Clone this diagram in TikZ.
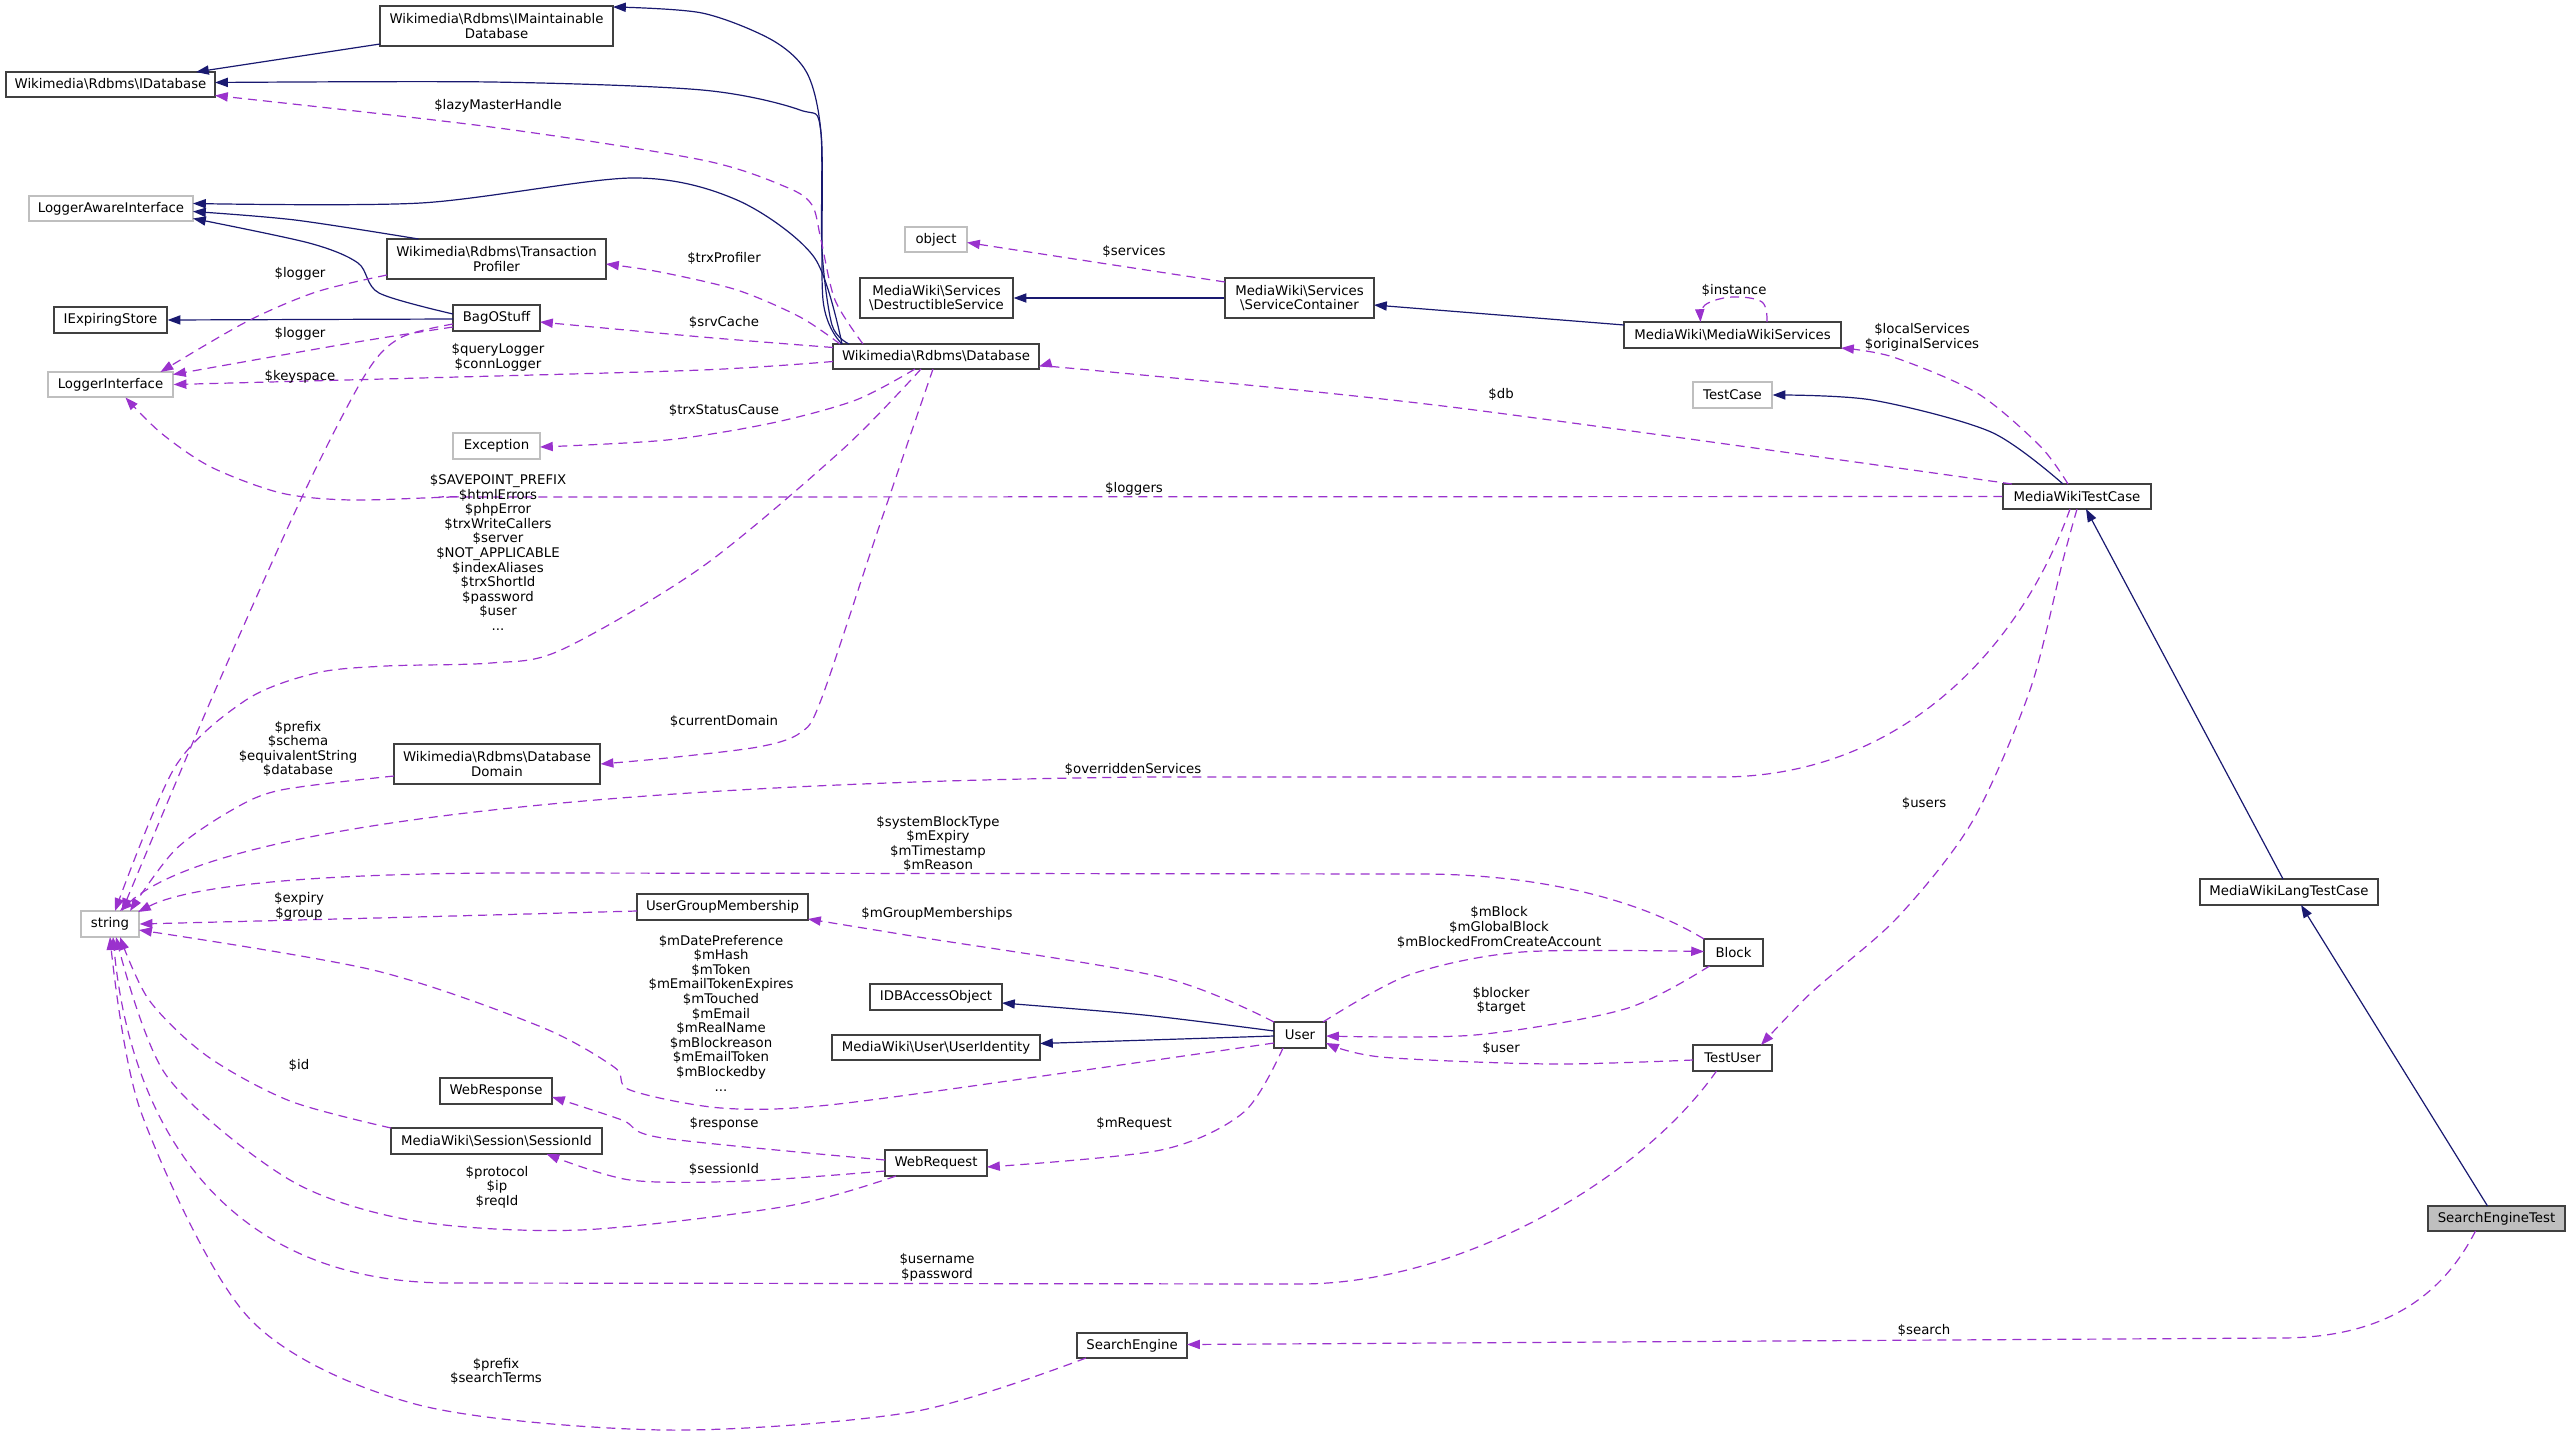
\documentclass[tikz,border=0pt]{standalone}
\usepackage{fontspec}
\setmainfont{DejaVu Sans}
\usetikzlibrary{arrows.meta,calc}
\definecolor{inhc}{HTML}{191970}
\definecolor{depc}{HTML}{9A32CD}
\definecolor{grayb}{HTML}{BFBFBF}
\definecolor{boxb}{HTML}{404040}
\newcommand{\bs}{\textbackslash}
\begin{document}
\begin{tikzpicture}[x=0.5pt,y=-0.5pt,
  every node/.style={font=\fontsize{6.65}{7.3}\selectfont},
  box/.style={draw=boxb, line width=0.6pt, inner sep=0pt, align=center, fill=white},
  gbox/.style={box, draw=grayb},
  inh/.style={draw=inhc, line width=0.6pt, -{Triangle[length=6.4pt,width=4.6pt]}},
  dep/.style={draw=depc, line width=0.6pt, dash pattern=on 4.5pt off 3pt, -{Triangle[length=6.4pt,width=4.6pt]}},
  lbl/.style={align=center, inner sep=0pt, text=black}]
\useasboundingbox (0,0) rectangle (2569,1439);

% nodes
\node[box, minimum width=116.5pt, minimum height=20pt] (imdb) at (496.5,26) {Wikimedia\bs Rdbms\bs IMaintainable\\Database};
\node[box, minimum width=104.5pt, minimum height=12.5pt] (idb) at (110.5,84.5) {Wikimedia\bs Rdbms\bs IDatabase};
\node[gbox, minimum width=82pt, minimum height=12.5pt] (lai) at (111,208.5) {LoggerAwareInterface};
\node[box, minimum width=109.5pt, minimum height=20pt] (tp) at (496.5,259) {Wikimedia\bs Rdbms\bs Transaction\\Profiler};
\node[box, minimum width=56.5pt, minimum height=13pt] (ies) at (110.5,320) {IExpiringStore};
\node[box, minimum width=43.5pt, minimum height=13pt] (bag) at (496.5,318) {BagOStuff};
\node[gbox, minimum width=62.5pt, minimum height=12.5pt] (li) at (110.5,384.5) {LoggerInterface};
\node[box, minimum width=103pt, minimum height=12.5pt] (db) at (936,356.5) {Wikimedia\bs Rdbms\bs Database};
\node[gbox, minimum width=31pt, minimum height=12.5pt] (obj) at (936,239.5) {object};
\node[box, minimum width=76.5pt, minimum height=20pt] (ds) at (936.5,298) {MediaWiki\bs Services\\\bs DestructibleService};
\node[gbox, minimum width=43.5pt, minimum height=13pt] (exc) at (496.5,446) {Exception};
\node[box, minimum width=103pt, minimum height=20pt] (dd) at (497,764) {Wikimedia\bs Rdbms\bs Database\\Domain};
\node[gbox, minimum width=29pt, minimum height=13pt] (str) at (110,924) {string};
\node[box, minimum width=85.5pt, minimum height=13pt] (ugm) at (722.5,907) {UserGroupMembership};
\node[box, minimum width=66pt, minimum height=13pt] (idbao) at (936,997) {IDBAccessObject};
\node[box, minimum width=104pt, minimum height=12.5pt] (uid) at (936,1047.5) {MediaWiki\bs User\bs UserIdentity};
\node[box, minimum width=26pt, minimum height=13pt] (user) at (1300,1035) {User};
\node[box, minimum width=56pt, minimum height=13pt] (wresp) at (496,1091) {WebResponse};
\node[box, minimum width=105.5pt, minimum height=13pt] (sid) at (496.5,1141) {MediaWiki\bs Session\bs SessionId};
\node[box, minimum width=51pt, minimum height=13pt] (wreq) at (936,1163) {WebRequest};
\node[box, minimum width=55pt, minimum height=12.5pt] (se) at (1132,1345.5) {SearchEngine};
\node[box, minimum width=74.5pt, minimum height=20pt] (sc) at (1299.5,298) {MediaWiki\bs Services\\\bs ServiceContainer};
\node[box, minimum width=108.5pt, minimum height=13pt] (mws) at (1732.5,335) {MediaWiki\bs MediaWikiServices};
\node[gbox, minimum width=39.5pt, minimum height=13pt] (tc) at (1732.5,395) {TestCase};
\node[box, minimum width=74pt, minimum height=12.5pt] (mwtc) at (2077,496.5) {MediaWikiTestCase};
\node[box, minimum width=89pt, minimum height=13pt] (mwltc) at (2289,892) {MediaWikiLangTestCase};
\node[box, fill=grayb, minimum width=68.5pt, minimum height=12.5pt] (set) at (2496.5,1218.5) {SearchEngineTest};
\node[box, minimum width=29.5pt, minimum height=13.5pt] (block) at (1733.5,952.5) {Block};
\node[box, minimum width=39.5pt, minimum height=13pt] (tu) at (1732.5,1058) {TestUser};

% inheritance edges
\draw[inh] ($(imdb)+(-116.5,18)$) -- ($(idb)+(85.5,-12.5)$);
\draw[inh] plot[smooth,tension=0.5] coordinates {($(db)+(-87,-12.5)$) (832,325) (822,250) (821,133) (807,73) (772,40) (702,13) ($(imdb)+(116.5,-19)$)};
\draw[inh] plot[smooth,tension=0.5] coordinates {($(db)+(-94,-12.5)$) (823,300) (821,133) (800,110) (702,90) (491,82) ($(idb)+(104.5,-2)$)};
\draw[inh] plot[smooth,tension=0.5] coordinates {($(db)+(-94,-12.5)$) (814,257) (737,200) (632,178) (421,203) ($(lai)+(82,-5)$)};
\draw[inh] plot[smooth,tension=0.5] coordinates {($(tp)+(-78,-20)$) (295,220) ($(lai)+(82,3)$)};
\draw[inh] plot[smooth,tension=0.5] coordinates {($(bag)+(-43.5,-4)$) (379,293) (358,263) (309,243) ($(lai)+(82,10)$)};
\draw[inh] ($(bag)+(-43.5,1)$) -- (ies.east);
\draw[inh] (sc.west) -- (ds.east);
\draw[inh] ($(mws)+(-108.5,-10)$) -- ($(sc)+(74.5,7)$);
\draw[inh] plot[smooth,tension=0.5] coordinates {($(mwtc)+(-14,-12.5)$) (1991,432) (1872,400) (tc.east)};
\draw[inh] ($(mwltc)+(-6,-13)$) -- ($(mwtc)+(9,12.5)$);
\draw[inh] ($(set)+(-9,-12.5)$) -- ($(mwltc)+(12,13)$);
\draw[inh] plot[smooth,tension=0.5] coordinates {($(user)+(-26,-4)$) (1144,1015) ($(idbao)+(66,6)$)};
\draw[inh] ($(user)+(-26,1)$) -- ($(uid)+(104,-4)$);

% dependency edges
\draw[dep] plot[smooth,tension=0.5] coordinates {($(db)+(-73,-12.5)$) (835,300) (821,240) (812,205) (786,187) (702,160) (491,127) ($(idb)+(104.5,11)$)};
\draw[dep] plot[smooth,tension=0.5] coordinates {($(db)+(-96,-12.5)$) (800,317) (737,290) (660,272) ($(tp)+(109.5,5)$)};
\draw[dep] plot[smooth,tension=0.5] coordinates {($(db)+(-103,-9)$) (702,337) ($(bag)+(43.5,4)$)};
\draw[dep] plot[smooth,tension=0.5] coordinates {($(db)+(-103,5)$) (702,370) (421,378) (li.east)};
\draw[dep] plot[smooth,tension=0.5] coordinates {($(bag)+(-43.5,9)$) (351,343) ($(li)+(62.5,-10)$)};
\draw[dep] plot[smooth,tension=0.5] coordinates {($(tp)+(-109.5,16)$) (316,292) (246,322) ($(li)+(50,-12.5)$)};
\draw[dep] plot[smooth,tension=0.5] coordinates {($(bag)+(-43.5,6)$) (400,338) (365,375) (302,497) (211,700) ($(str)+(12,-13)$)};
\draw[dep] plot[smooth,tension=0.5] coordinates {(mwtc.west) (561,497) (456,497) (351,500) (281,493) (211,467) (161,433) ($(li)+(15,13)$)};
\draw[dep] plot[smooth,tension=0.5] coordinates {($(db)+(-21,12.5)$) (856,400) (772,423) (667,440) ($(exc)+(43.5,1)$)};
\draw[dep] plot[smooth,tension=0.5] coordinates {($(db)+(-15,12.5)$) (842,450) (702,567) (561,650) (491,663) (386,666) (316,673) (246,700) (175,767) ($(str)+(5,-13)$)};
\draw[dep] plot[smooth,tension=0.5] coordinates {($(db)+(-3,12.5)$) (877,533) (821,700) (800,733) (758,747) (667,758) (dd.east)};
\draw[dep] plot[smooth,tension=0.5] coordinates {($(dd)+(-103,12)$) (281,790) (232,810) (175,850) ($(str)+(20,-13)$)};
\draw[dep] ($(mwtc)+(-7,12.5)$) .. controls (2020,650) and (1900,777) .. (1720,777) -- (1150,777) .. controls (650,782) and (220,820) .. ($(str)+(10,-13)$);
\draw[dep] ($(block)+(-29.5,-13.5)$) .. controls (1640,900) and (1540,874) .. (1420,874) -- (520,873) .. controls (320,873) and (190,885) .. ($(str)+(28,-12)$);
\draw[dep] plot[smooth,tension=0.5] coordinates {($(ugm)+(-85.5,4)$) (415,917) (str.east)};
\draw[dep] plot[smooth,tension=0.5] coordinates {($(user)+(-26,-13)$) (1161,977) (912,936) ($(ugm)+(85.5,12)$)};
\draw[dep] plot[smooth,tension=0.5] coordinates {($(user)+(-26,8)$) (1078,1071) (829,1105) (721,1108) (630,1090) (614,1067) (539,1026) (373,970) ($(str)+(29,6)$)};
\draw[dep] plot[smooth,tension=0.5] coordinates {($(sid)+(-105.5,-13)$) (290,1101) (207,1056) (149,1000) ($(str)+(10,13)$)};
\draw[dep] plot[smooth,tension=0.5] coordinates {($(wreq)+(-51,-3)$) (663,1138) (622,1120) ($(wresp)+(56,6)$)};
\draw[dep] plot[smooth,tension=0.5] coordinates {($(wreq)+(-51,8)$) (746,1181) (630,1180) ($(sid)+(50,13)$)};
\draw[dep] plot[smooth,tension=0.5] coordinates {($(wreq)+(-40,13)$) (788,1206) (580,1230) (415,1221) (290,1180) (166,1075) ($(str)+(6,13)$)};
\draw[dep] plot[smooth,tension=0.5] coordinates {($(user)+(-17,13)$) (1244,1112) (1161,1150) ($(wreq)+(51,4)$)};
\draw[dep] ($(tu)+(-16,13)$) .. controls (1640,1180) and (1460,1284) .. (1300,1284) -- (450,1283) .. controls (220,1283) and (130,1120) .. ($(str)+(3,13)$);
\draw[dep] plot[smooth,tension=0.5] coordinates {($(se)+(-46,12.5)$) (912,1412) (663,1430) (415,1404) (249,1318) (141,1112) ($(str)+(0,13)$)};
\draw[dep] ($(set)+(-21,12.5)$) .. controls (2440,1300) and (2380,1338) .. (2280,1338) -- ($(se)+(55,-1)$);
\draw[dep] plot[smooth,tension=0.5] coordinates {($(mwtc)+(0,12.5)$) (2063,560) (2030,690) (1972,822) (1897,918) (1812,992) ($(tu)+(28.5,-13)$)};
\draw[dep] plot[smooth,tension=0.5] coordinates {($(user)+(23,-13)$) (1409,975) (1522,952) ($(block)+(-29.5,-1)$)};
\draw[dep] plot[smooth,tension=0.5] coordinates {($(block)+(-24,13.5)$) (1625,1009) (1475,1035) ($(user)+(26,1)$)};
\draw[dep] plot[smooth,tension=0.5] coordinates {($(tu)+(-39.5,2)$) (1550,1064) (1381,1057) ($(user)+(26,8)$)};
\draw[dep] plot[smooth,tension=0.5] coordinates {($(sc)+(-74.5,-16)$) (1107,264) ($(obj)+(31,3)$)};
\draw[dep] plot[smooth,tension=0.5] coordinates {($(mwtc)+(-65,-12.5)$) (1451,407) (1100,371) ($(db)+(103,10)$)};
\draw[dep] plot[smooth,tension=0.6] coordinates {($(mws)+(34.5,-13)$) (1762,302) (1732,297) (1705,305) ($(mws)+(-32,-13)$)};
\draw[dep] plot[smooth,tension=0.5] coordinates {($(mwtc)+(-9,-12.5)$) (2040,446) (1977,393) (1893,357) ($(mws)+(108.5,13)$)};

% labels
\node[lbl] (l1) at (498,106) {\$lazyMasterHandle};
\node[lbl] (l2) at (724,258) {\$trxProfiler};
\node[lbl] (l3) at (300,274) {\$logger};
\node[lbl] (l4) at (724,322) {\$srvCache};
\node[lbl] (l5) at (300,334) {\$logger};
\node[lbl] (l6) at (498,357.5) {\$queryLogger\\\$connLogger};
\node[lbl] (l7) at (300,377) {\$keyspace};
\node[lbl] (l8) at (724,410) {\$trxStatusCause};
\node[lbl] (l9) at (498,552.5) {\$SAVEPOINT\_PREFIX\\\$htmlErrors\\\$phpError\\\$trxWriteCallers\\\$server\\\$NOT\_APPLICABLE\\\$indexAliases\\\$trxShortId\\\$password\\\$user\\...};
\node[lbl] (l10) at (1134,489) {\$loggers};
\node[lbl] (l11) at (724,721) {\$currentDomain};
\node[lbl] (l12) at (298,749) {\$prefix\\\$schema\\\$equivalentString\\\$database};
\node[lbl] (l13) at (1133,769) {\$overriddenServices};
\node[lbl] (l14) at (938,844) {\$systemBlockType\\\$mExpiry\\\$mTimestamp\\\$mReason};
\node[lbl] (l15) at (299,906.5) {\$expiry\\\$group};
\node[lbl] (l16) at (937,914) {\$mGroupMemberships};
\node[lbl] (l17) at (721,1013) {\$mDatePreference\\\$mHash\\\$mToken\\\$mEmailTokenExpires\\\$mTouched\\\$mEmail\\\$mRealName\\\$mBlockreason\\\$mEmailToken\\\$mBlockedby\\...};
\node[lbl] (l18) at (299,1065) {\$id};
\node[lbl] (l19) at (724,1124) {\$response};
\node[lbl] (l20) at (1134,1124) {\$mRequest};
\node[lbl] (l21) at (724,1169) {\$sessionId};
\node[lbl] (l22) at (497,1187) {\$protocol\\\$ip\\\$reqId};
\node[lbl] (l23) at (937,1267.5) {\$username\\\$password};
\node[lbl] (l24) at (496,1371.5) {\$prefix\\\$searchTerms};
\node[lbl] (l25) at (1924,1330) {\$search};
\node[lbl] (l26) at (1134,251) {\$services};
\node[lbl] (l27) at (1734,290) {\$instance};
\node[lbl] (l28) at (1922,337.5) {\$localServices\\\$originalServices};
\node[lbl] (l29) at (1501,394) {\$db};
\node[lbl] (l30) at (1924,803) {\$users};
\node[lbl] (l31) at (1499,927.5) {\$mBlock\\\$mGlobalBlock\\\$mBlockedFromCreateAccount};
\node[lbl] (l32) at (1501,1001) {\$blocker\\\$target};
\node[lbl] (l33) at (1501,1048) {\$user};
\end{tikzpicture}
\end{document}
